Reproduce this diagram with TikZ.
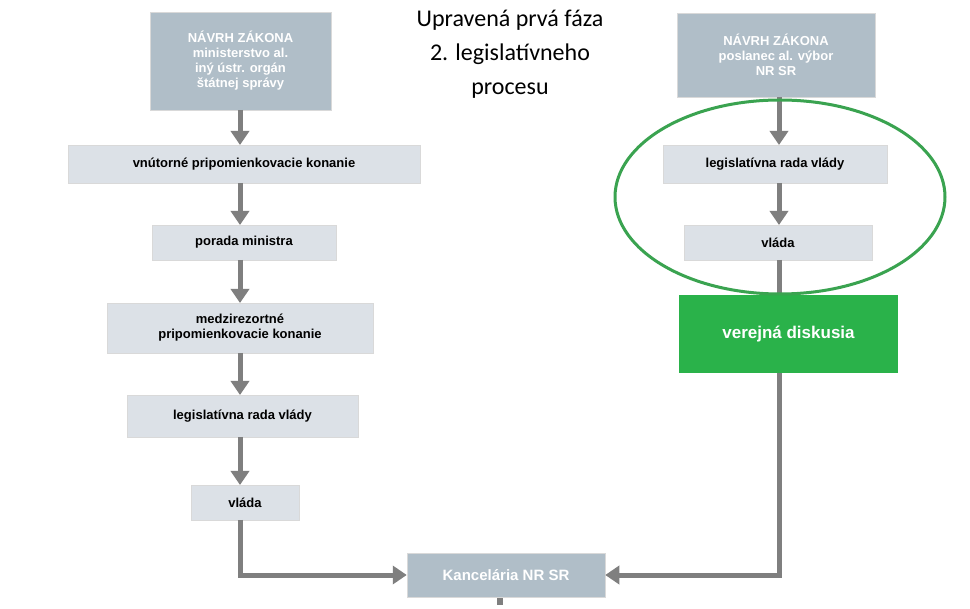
\documentclass[tikz,border=0pt]{standalone}
\usepackage{fontspec}
\setmainfont{Liberation Sans}
\newfontfamily\titlefont{Carlito}
\usetikzlibrary{arrows.meta,shapes.geometric}
\definecolor{dark}{HTML}{B0BEC8}
\definecolor{light}{HTML}{DCE1E7}
\definecolor{kgreen}{HTML}{2AB24A}
\definecolor{egreen}{HTML}{3AA350}
\definecolor{lgray}{HTML}{7F7F7F}
\tikzset{
 box/.style={draw=black!15,line width=0.5pt,inner sep=0pt,align=center,font=\bfseries\fontsize{13}{15}\selectfont},
 darkbox/.style={box,fill=dark,text=white},
 lightbox/.style={box,fill=light,text=black},
 flow/.style={draw=lgray,line width=5pt},
 tip/.style={-{Triangle[length=14pt,width=18pt]}}
}
\begin{document}
\begin{tikzpicture}[x=1pt,y=-1pt]
\useasboundingbox (0,0) rectangle (970,609);
\fill[white] (0,0) rectangle (970,609);
\newcommand{\mybox}[6]{\node[#1,minimum width=#4-#2,minimum height=#5-#3] (#6) at ({(#2+#4)/2},{(#3+#5)/2})}
\mybox{darkbox}{150}{12}{331}{110}{a1} {NÁVRH ZÁKONA\\ministerstvo al.\\iný ústr. orgán\\štátnej správy};
\mybox{lightbox}{68}{145}{420}{183}{a2} {vnútorné pripomienkovacie konanie};
\mybox{lightbox}{152}{225}{336}{260}{a3} {porada ministra};
\mybox{lightbox}{107}{303}{373}{353}{a4} {medzirezortné\\pripomienkovacie konanie};
\mybox{lightbox}{127}{395}{358}{437}{a5} {legislatívna rada vlády};
\mybox{lightbox}{191}{485}{299}{520}{a6} {vláda};
\mybox{darkbox}{407}{553}{605}{597}{k} {\fontsize{15}{17}\selectfont Kancelária NR SR};
\mybox{darkbox}{677}{13}{875}{97}{b1} {NÁVRH ZÁKONA\\poslanec al. výbor\\NR SR};
\mybox{lightbox}{663}{145}{887}{183}{b2} {legislatívna rada vlády};
\mybox{lightbox}{684}{225}{872}{260}{b3} {vláda};
\mybox{box,draw=none,fill=kgreen,text=white}{679}{295}{898}{373}{b4} {\fontsize{17}{19}\selectfont verejná diskusia};
\node[font=\titlefont\fontsize{24}{34}\selectfont,align=center] (t) at (510,54) {Upravená prvá fáza\\2. legislatívneho\\procesu};
\draw[flow,tip] (240,110) -- (240,145);
\draw[flow,tip] (240,183) -- (240,225);
\draw[flow,tip] (240,260) -- (240,303);
\draw[flow,tip] (240,353) -- (240,395);
\draw[flow,tip] (240,437) -- (240,485);
\draw[flow,tip] (240,520) |- (k.west);
\draw[flow,tip] (779,97) -- (779,145);
\draw[flow,tip] (779,183) -- (779,225);
\draw[flow] (779,260) -- (779,295);
\draw[flow,tip] (779,373) |- (k.east);
\fill[lgray] (497,598) rectangle (503,605);
\node[draw=egreen,line width=3pt,ellipse,inner sep=0pt,minimum width=330pt,minimum height=194pt] (e) at (780,197) {};
\end{tikzpicture}
\end{document}
